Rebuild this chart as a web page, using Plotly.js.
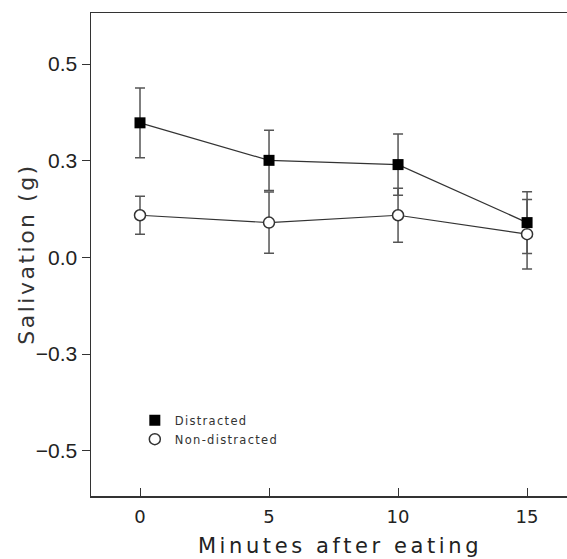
<!DOCTYPE html>
<html>
<head>
<meta charset="utf-8">
<script src="https://cdn.plot.ly/plotly-3.0.1.min.js"></script>
<style>
html, body { margin: 0; padding: 0; overflow: hidden; background: #fff; }
#chart { width: 600px; height: 559px; }
.xtitle { letter-spacing: 3.6px; }
.legendtext { letter-spacing: 1.3px; }
.annotation-text { letter-spacing: 2.5px; }
</style>
</head>
<body>
<div id="chart"></div>
<script>
// Data
const minutes = [0, 5, 10, 15];
const distracted = [0.348, 0.251, 0.240, 0.090];
const distractedErr = [0.090, 0.078, 0.079, 0.080];
const nonDistracted = [0.109, 0.090, 0.109, 0.060];
const nonDistractedErr = [0.049, 0.079, 0.070, 0.090];
const yTickVals = [0.5, 0.25, 0, -0.25, -0.5];
const yTickText = ['0.5', '0.3', '0.0', '\u22120.3', '\u22120.5'];
const xTickVals = [0, 5, 10, 15];

const lineColor = '#333';
const errColor = '#555';

const traces = [
  {
    x: minutes, y: distracted, mode: 'lines', showlegend: false,
    line: {color: lineColor, width: 1.2},
    error_y: {type: 'data', array: distractedErr, visible: true, color: errColor, thickness: 1.5, width: 5}
  },
  {
    x: minutes, y: nonDistracted, mode: 'lines', showlegend: false,
    line: {color: lineColor, width: 1.2},
    error_y: {type: 'data', array: nonDistractedErr, visible: true, color: errColor, thickness: 1.5, width: 5}
  },
  {
    x: minutes, y: distracted, mode: 'markers', name: 'Distracted',
    marker: {symbol: 'square', size: 11, color: '#000', line: {color: '#000', width: 0}}
  },
  {
    x: minutes, y: nonDistracted, mode: 'markers', name: 'Non-distracted',
    marker: {symbol: 'circle', size: 11, color: '#fff', line: {color: '#333', width: 1.5}}
  }
];

const layout = {
  width: 600, height: 559,
  margin: {l: 91, r: 11, t: 13, b: 63},
  paper_bgcolor: '#fff', plot_bgcolor: '#fff',
  showlegend: true,
  legend: {
    x: 0.088, y: 0.187, xanchor: 'left', yanchor: 'top',
    font: {family: 'DejaVu Sans', size: 11.5, color: '#333'},
    bgcolor: 'rgba(0,0,0,0)', tracegroupgap: 0, itemwidth: 30
  },
  xaxis: {
    range: [-1.899, 17.40],
    tickvals: xTickVals,
    ticks: 'inside', ticklen: 8, tickwidth: 1, tickcolor: '#333',
    showline: true, linecolor: '#333', linewidth: 1.5, mirror: true,
    showgrid: false, zeroline: false,
    ticklabelstandoff: 4,
    tickfont: {family: 'DejaVu Sans', size: 18, color: '#222'},
    title: {text: 'Minutes after eating', font: {family: 'DejaVu Sans', size: 21, color: '#222'}, standoff: 12}
  },
  yaxis: {
    range: [-0.617, 0.632],
    tickvals: yTickVals, ticktext: yTickText,
    ticks: 'outside', ticklen: 8, tickwidth: 1, tickcolor: '#333',
    showline: true, linecolor: '#333', linewidth: 1.5, mirror: true,
    showgrid: false, zeroline: false,
    tickfont: {family: 'Liberation Sans', size: 21, color: '#222'}
  },
  annotations: [{
    text: 'Salivation (g)', textangle: -90, showarrow: false,
    xref: 'paper', yref: 'paper', x: -0.13, y: 0.5, xanchor: 'center', yanchor: 'middle',
    font: {family: 'DejaVu Sans', size: 22, color: '#333'}
  }]
};

Plotly.newPlot('chart', traces, layout, {displayModeBar: false, staticPlot: true});
</script>
</body>
</html>
